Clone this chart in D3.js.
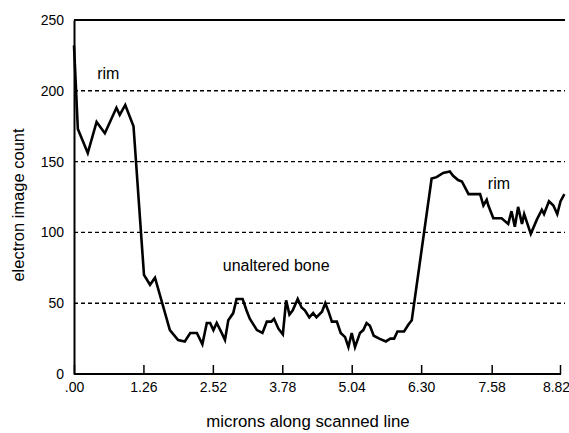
<!DOCTYPE html>
<html><head><meta charset="utf-8">
<script src="https://cdn.jsdelivr.net/npm/d3@7"></script>
<style>body{margin:0;background:#fff}svg{display:block}text{font-family:"Liberation Sans",Arial,sans-serif;fill:#000}</style>
</head><body>
<svg id="c" width="569" height="433"></svg>
<script>
const microns = [
  0.00,0.07,0.25,0.41,0.56,0.77,0.83,0.93,1.08,1.27,
  1.38,1.47,1.74,1.89,2.01,2.11,2.23,2.33,2.41,2.47,
  2.53,2.59,2.68,2.74,2.80,2.89,2.95,3.06,3.13,3.19,
  3.32,3.42,3.50,3.58,3.63,3.71,3.79,3.85,3.91,3.97,
  4.06,4.13,4.19,4.27,4.34,4.40,4.50,4.56,4.62,4.68,
  4.77,4.84,4.92,4.98,5.04,5.10,5.19,5.25,5.31,5.37,
  5.44,5.54,5.66,5.74,5.81,5.87,5.99,6.07,6.13,6.49,
  6.58,6.70,6.82,6.88,6.97,7.04,7.16,7.37,7.43,7.49,
  7.52,7.61,7.76,7.88,7.94,8.00,8.06,8.13,8.17,8.29,
  8.40,8.49,8.53,8.62,8.70,8.77,8.83,8.90
];
const counts = [
  232,173,156,178,170,188,183,190,175,70,
  63,68,31,24,23,29,29,21,36,36,
  31,36,29,24,38,43,53,53,45,39,
  31,29,37,37,39,32,28,52,42,45,
  53,47,45,40,43,40,44,50,44,37,
  37,29,26,19,29,19,29,31,36,34,
  27,25,23,25,25,30,30,35,38,138,
  139,142,143,140,137,136,127,127,119,123,
  119,110,110,106,115,104,118,106,113,99,
  109,116,113,122,119,113,122,127
];
const xTicks = [0, 1.26, 2.52, 3.78, 5.04, 6.30, 7.58, 8.82];
const xTickLabels = [".00","1.26","2.52","3.78","5.04","6.30","7.58","8.82"];
const yTicks = [0, 50, 100, 150, 200, 250];
const gridValues = [50, 100, 150, 200];
const annotations = [
  {text:"rim", x:0.42, y:208},
  {text:"unaltered bone", x:2.70, y:73},
  {text:"rim", x:7.51, y:131}
];

const svg = d3.select("#c");
const x = d3.scaleLinear().domain([0, 8.82]).range([74, 560]);
const y = d3.scaleLinear().domain([0, 250]).range([374, 20]);
const xEnd = 565;
const FONT = '"Liberation Sans",Arial,sans-serif';

// dashed gridlines
svg.append("g").selectAll("line").data(gridValues).join("line")
  .attr("x1", x(0)).attr("x2", xEnd)
  .attr("y1", d => y(d)).attr("y2", d => y(d))
  .attr("stroke", "#000").attr("stroke-width", 1.4).attr("stroke-dasharray", "4,3");

// top border
svg.append("line").attr("x1", x(0)).attr("x2", xEnd).attr("y1", y(250)).attr("y2", y(250))
  .attr("stroke", "#000").attr("stroke-width", 2);

// x axis (ticks inward)
const xAxis = d3.axisBottom(x).tickValues(xTicks).tickSize(-9)
  .tickFormat((d, i) => xTickLabels[i]).tickPadding(8);
const gx = svg.append("g").attr("transform", `translate(0,${y(0)})`).call(xAxis);
gx.select(".domain").attr("d", `M${x(0)},0H${x(8.82)+1}`).attr("stroke-width", 2);
gx.selectAll(".tick line").attr("stroke-width", 1.5);
gx.selectAll(".tick text").attr("font-size", 14).attr("font-family", FONT).attr("fill", "#000")
  .attr("dx", (d, i) => i === xTicks.length - 1 ? -4 : 0);

// y axis (no ticks)
const yAxis = d3.axisLeft(y).tickValues(yTicks).tickSize(0).tickPadding(10);
const gy = svg.append("g").attr("transform", `translate(${x(0)},0)`).call(yAxis);
gy.select(".domain").attr("stroke-width", 2);
gy.selectAll(".tick text").attr("font-size", 14).attr("font-family", FONT).attr("fill", "#000");

// data line
const pts = microns.map((m, i) => [m, counts[i]]);
svg.append("path").datum(pts)
  .attr("d", d3.line().x(d => x(d[0])).y(d => y(d[1])))
  .attr("fill", "none").attr("stroke", "#000").attr("stroke-width", 2.6)
  .attr("stroke-linejoin", "miter");

// annotations
svg.append("g").selectAll("text").data(annotations).join("text")
  .attr("x", d => x(d.x)).attr("y", d => y(d.y))
  .attr("font-size", 16).text(d => d.text);

// axis titles
svg.append("text").attr("x", 308).attr("y", 427).attr("text-anchor", "middle")
  .attr("font-size", 16.8).text("microns along scanned line");
svg.append("text").attr("transform", "translate(24,205) rotate(-90)").attr("text-anchor", "middle")
  .attr("font-size", 16.5).text("electron image count");
</script>
</body></html>
